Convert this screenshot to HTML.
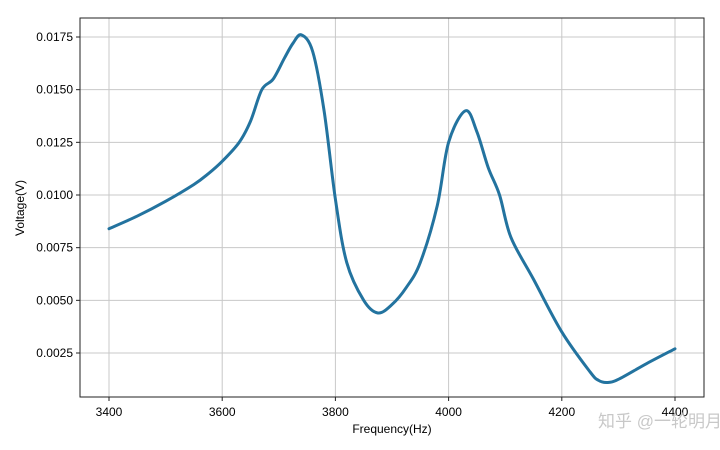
<!DOCTYPE html>
<html><head><meta charset="utf-8"><style>
html,body{margin:0;padding:0;background:#fff;}
svg{display:block;font-family:"Liberation Sans","Noto Sans CJK SC",sans-serif;}
</style></head><body>
<svg id="chart" width="720" height="450">
<g id="grid"></g>
<g id="xticks"></g>
<g id="yticks"></g>
<path id="line" fill="none" stroke="#23739f" stroke-width="3" stroke-linejoin="round" stroke-linecap="round"/>
<rect x="80" y="18" width="624" height="379" fill="none" stroke="#222" stroke-width="1"/>
<text x="392" y="433" font-size="12" text-anchor="middle" fill="#000">Frequency(Hz)</text>
<text transform="translate(24,208) rotate(-90)" font-size="12" text-anchor="middle" fill="#000">Voltage(V)</text>
<text x="598" y="427" font-size="17" fill="#bbb" opacity="0.8">知乎 @一轮明月</text>
</svg>
<script>
const freqs=[3400,3450,3500,3550,3575,3600,3630,3650,3670,3690,3710,3725,3740,3760,3780,3800,3820,3850,3875,3900,3925,3950,3980,4000,4030,4050,4070,4090,4110,4150,4200,4250,4265,4280,4300,4350,4400];
const volts=[0.0084,0.0090,0.0097,0.0105,0.0110,0.0116,0.0125,0.0135,0.0150,0.0155,0.0165,0.0172,0.0176,0.0168,0.0140,0.0098,0.0068,0.0050,0.0044,0.0048,0.0056,0.0068,0.0095,0.0125,0.0140,0.0130,0.0113,0.0100,0.0080,0.0060,0.0035,0.0016,0.0012,0.0011,0.00125,0.0020,0.0027];
const xTicks=[3400,3600,3800,4000,4200,4400];
const yTicks=[0.0025,0.0050,0.0075,0.0100,0.0125,0.0150,0.0175];
const X=v=>109+(v-3400)*(566/1000);
const Y=v=>353-(v-0.0025)*(316/0.015);
const NS="http://www.w3.org/2000/svg";
const grid=document.getElementById('grid'),xg=document.getElementById('xticks'),yg=document.getElementById('yticks');
function mk(tag,attrs,parent){const e=document.createElementNS(NS,tag);for(const k in attrs)e.setAttribute(k,attrs[k]);parent.appendChild(e);return e;}
xTicks.forEach(t=>{
  const gl=mk('line',{x1:X(t),x2:X(t),y1:18,y2:397,stroke:'#c8c8c8','stroke-width':1},grid);
  
  
  const tk=mk('line',{x1:X(t),x2:X(t),y1:397,y2:401,stroke:'#222'},xg);
  
  
  const tx=mk('text',{x:X(t),y:416,'font-size':12,'text-anchor':'middle'},xg);
  tx.textContent=t;
  
  
});
yTicks.forEach(t=>{
  const gl=mk('line',{x1:80,x2:704,y1:Y(t),y2:Y(t),stroke:'#c8c8c8','stroke-width':1},grid);
  
  
  const tk=mk('line',{x1:76,x2:80,y1:Y(t),y2:Y(t),stroke:'#222'},yg);
  
  
  const tx=mk('text',{x:73,y:Y(t)+4,'font-size':12,'text-anchor':'end'},yg);
  tx.textContent=t.toFixed(4);
  
  
});
const P=freqs.map((f,i)=>[X(f),Y(volts[i])]);
let d='M'+P[0][0]+','+P[0][1];
for(let i=0;i<P.length-1;i++){
  const p0=P[Math.max(0,i-1)],p1=P[i],p2=P[i+1],p3=P[Math.min(P.length-1,i+2)];
  const c1=[p1[0]+(p2[0]-p0[0])/6,p1[1]+(p2[1]-p0[1])/6];
  const c2=[p2[0]-(p3[0]-p1[0])/6,p2[1]-(p3[1]-p1[1])/6];
  d+=` C${c1[0]},${c1[1]} ${c2[0]},${c2[1]} ${p2[0]},${p2[1]}`;
}
document.getElementById('line').setAttribute('d',d);
</script>
</body></html>
